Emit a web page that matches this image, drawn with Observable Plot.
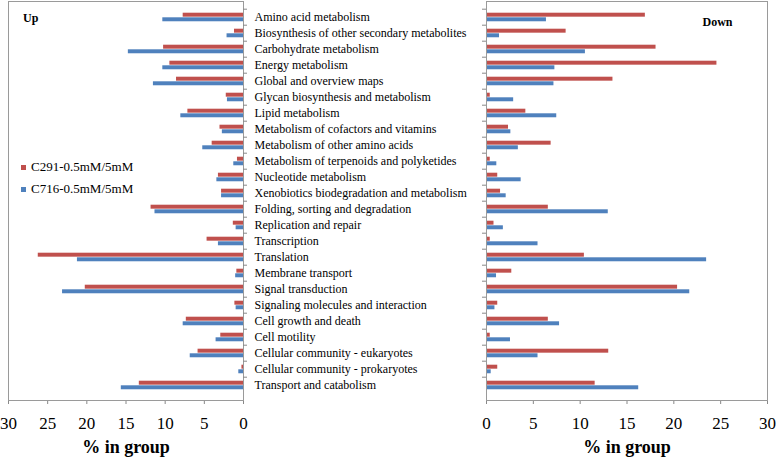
<!DOCTYPE html>
<html>
<head>
<meta charset="utf-8">
<script src="https://cdn.jsdelivr.net/npm/d3@7"></script>
<script src="https://cdn.jsdelivr.net/npm/@observablehq/plot@0.6"></script>
<style>
  body { margin: 0; background: #fff; }
  #chart { position: relative; width: 777px; height: 459px; font-family: "Liberation Serif", "Times New Roman", serif; }
  #chart svg { position: absolute; top: 0; background: transparent; overflow: visible; }
  #chart svg text { font-family: "Liberation Serif", "Times New Roman", serif; }
  g[aria-label="x-axis tick"] { stroke: #888; }
  .legend { position: absolute; left: 21px; font-size: 13px; line-height: 15px; color: #000; white-space: nowrap; }
  .legend .sw { display: inline-block; width: 5px; height: 5px; margin-right: 5px; vertical-align: middle; position: relative; top: -1px; }
</style>
</head>
<body>
<div id="chart"></div>
<script>
const categories = [
  "Amino acid metabolism",
  "Biosynthesis of other secondary metabolites",
  "Carbohydrate metabolism",
  "Energy metabolism",
  "Global and overview maps",
  "Glycan biosynthesis and metabolism",
  "Lipid metabolism",
  "Metabolism of cofactors and vitamins",
  "Metabolism of other amino acids",
  "Metabolism of terpenoids and polyketides",
  "Nucleotide metabolism",
  "Xenobiotics biodegradation and metabolism",
  "Folding, sorting and degradation",
  "Replication and repair",
  "Transcription",
  "Translation",
  "Membrane transport",
  "Signal transduction",
  "Signaling molecules and interaction",
  "Cell growth and death",
  "Cell motility",
  "Cellular community - eukaryotes",
  "Cellular community - prokaryotes",
  "Transport and catabolism"
];
const series = ["C291-0.5mM/5mM", "C716-0.5mM/5mM"];
const colors = ["#C0504D", "#4F81BD"];

// Up-regulated (% in group)
const upC291 = [7.7, 1.15, 10.2, 9.4, 8.55, 2.2, 7.1, 3.0, 4.0, 0.77, 3.2, 2.8, 11.8, 1.3, 4.65, 26.2, 0.85, 20.2, 1.1, 7.3, 2.9, 5.8, 0.2, 13.3];
const upC716 = [10.3, 2.1, 14.7, 10.3, 11.5, 2.05, 8.0, 2.7, 5.2, 1.24, 3.4, 2.8, 11.3, 0.94, 3.2, 21.2, 1.0, 23.1, 0.94, 7.7, 3.5, 6.8, 0.6, 15.6];
// Down-regulated (% in group)
const downC291 = [16.96, 8.5, 18.1, 24.6, 13.5, 0.4, 4.2, 2.35, 6.9, 0.4, 1.2, 1.5, 6.6, 0.8, 0.4, 10.45, 2.7, 20.4, 1.2, 6.6, 0.4, 13.05, 1.2, 11.6];
const downC716 = [6.4, 1.39, 10.56, 7.3, 7.2, 2.9, 7.5, 2.6, 3.4, 1.1, 3.7, 2.1, 13.0, 1.8, 5.5, 23.5, 1.07, 21.7, 0.9, 7.8, 2.56, 5.5, 0.5, 16.25];

const xTicks = [0, 5, 10, 15, 20, 25, 30];
const panelLabels = ["Up", "Down"];
const axisLabel = "% in group";

const rows = categories.map((c, i) => ({
  category: c,
  up291: upC291[i], up716: upC716[i],
  down291: downC291[i], down716: downC716[i]
}));

const H = 459, MT = 1, MB = 59;
const bw = (H - MT - MB) / categories.length;
const barH = 4.6, gapTop = 3.7;
const serif = "'Liberation Serif', 'Times New Roman', serif";

function bars(key291, key716) {
  return [
    Plot.barX(rows, {y: "category", x: key291, fill: colors[0], insetTop: gapTop, insetBottom: bw - gapTop - barH}),
    Plot.barX(rows, {y: "category", x: key716, fill: colors[1], insetTop: gapTop + barH, insetBottom: bw - gapTop - 2 * barH})
  ];
}

const common = {
  height: H, marginTop: MT, marginBottom: MB,
  style: {fontFamily: serif, fontSize: "17px", color: "#000", background: "transparent", overflow: "visible"},
  y: {domain: categories, padding: 0, axis: null}
};

const left = Plot.plot({
  ...common,
  width: 486, marginLeft: 8, marginRight: 243,
  x: {domain: [0, 30], reverse: true, ticks: xTicks, tickSize: 4, tickPadding: 12, label: null},
  marks: [
    ...bars("up291", "up716"),
    Plot.frame({stroke: "#9a9a9a"}),
    Plot.ruleY(categories, {y: d => d, x1: 0, x2: 0, insetRight: -4, dy: -bw / 2, stroke: "#888"}),
    Plot.text(categories, {y: d => d, text: d => d, frameAnchor: "right", dx: 11, textAnchor: "start", fontSize: 12, fontFamily: serif, fill: "#000"}),
    Plot.text([panelLabels[0]], {text: d => d, frameAnchor: "top-left", dx: 14.5, dy: 17, textAnchor: "start", lineAnchor: "middle", fontWeight: "bold", fontSize: 12, fontFamily: serif, fill: "#000"}),
    Plot.text([axisLabel], {text: d => d, frameAnchor: "bottom", dy: 47, lineAnchor: "middle", fontWeight: "bold", fontSize: 18, fontFamily: serif, fill: "#000"})
  ]
});

const right = Plot.plot({
  ...common,
  width: 307, marginLeft: 16, marginRight: 10,
  x: {domain: [0, 30], ticks: xTicks, tickSize: 4, tickPadding: 12, label: null},
  marks: [
    ...bars("down291", "down716"),
    Plot.frame({stroke: "#9a9a9a"}),
    Plot.ruleY(categories, {y: d => d, x1: 0, x2: 0, insetLeft: -4, dy: -bw / 2, stroke: "#888"}),
    Plot.text([panelLabels[1]], {text: d => d, frameAnchor: "top-right", dx: -35, dy: 21, textAnchor: "end", lineAnchor: "middle", fontWeight: "bold", fontSize: 12, fontFamily: serif, fill: "#000"}),
    Plot.text([axisLabel], {text: d => d, frameAnchor: "bottom", dy: 47, lineAnchor: "middle", fontWeight: "bold", fontSize: 18, fontFamily: serif, fill: "#000"})
  ]
});

const chart = document.getElementById("chart");
left.style.left = "0px";
right.style.left = "470px";
chart.appendChild(left);
chart.appendChild(right);

series.forEach((s, i) => {
  const d = document.createElement("div");
  d.className = "legend";
  d.style.top = (159 + i * 22) + "px";
  const sw = document.createElement("span");
  sw.className = "sw";
  sw.style.background = colors[i];
  d.appendChild(sw);
  d.appendChild(document.createTextNode(s));
  chart.appendChild(d);
});
</script>
</body>
</html>
